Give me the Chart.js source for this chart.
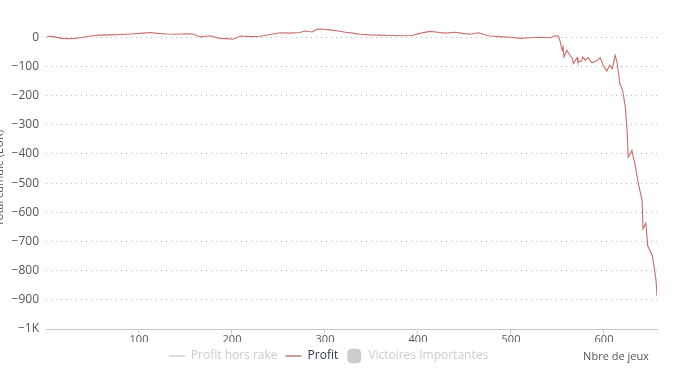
<!DOCTYPE html>
<html>
<head>
<meta charset="utf-8">
<script src="https://cdn.jsdelivr.net/npm/chart.js@4"></script>
<style>
  html, body { margin: 0; padding: 0; background: #fff; }
  #wrap { width: 674px; height: 372px; position: relative; }
</style>
</head>
<body>
<div id="wrap"><canvas id="profitChart"></canvas></div>
<script>
// Games played (x) and cumulative profit (y)
const games = [1, 8, 17, 24, 31, 40, 50, 58, 70, 80, 92, 105, 112, 120, 130, 140, 150, 158,
  166, 176, 187, 195, 201, 209, 220, 230, 241, 252, 262, 273, 278, 286, 292, 298, 305, 314,
  322, 330, 338, 348, 359, 370, 381, 394, 402, 413, 421, 429, 440, 448, 456, 465, 471, 477,
  488, 499, 510, 520, 531, 542, 547, 551, 553, 555, 556, 557, 560, 562, 566, 567, 571, 572,
  576, 577, 580, 583, 587, 592, 596, 599, 603, 606, 609, 612, 614, 617, 620, 623, 625, 626,
  628, 630, 634, 637, 641, 642, 645, 647, 652, 654, 656, 657];
const profit = [3, 2, -4, -5, -4, 0, 5, 7, 8, 9, 11, 14, 16, 13, 11, 10, 12, 11,
  1, 5, -4, -5, -7, 4, 2, 3, 9, 15, 14, 16, 21, 18, 28, 27, 25, 21,
  17, 14, 10, 8, 7, 6, 5, 6, 13, 20, 17, 14, 17, 13, 10, 15, 9, 4,
  2, 0, -4, -2, 0, -2, 5, 4, -16, -45, -33, -68, -45, -56, -73, -90, -70, -85,
  -82, -68, -79, -70, -88, -81, -70, -96, -116, -96, -108, -62, -85, -159, -182, -240, -331, -411,
  -400, -388, -446, -503, -560, -657, -637, -715, -749, -789, -835, -887];

const legendNames = ['Profit hors rake', 'Profit', 'Victoires Importantes'];
// 100 is the unlabelled top of the axis
const yTicks = [-1000, -900, -800, -700, -600, -500, -400, -300, -200, -100, 0, 100];
const xTicks = [100, 200, 300, 400, 500, 600];

const FONT = "'Open Sans', 'DejaVu Sans', sans-serif";

// draw the axis titles where the original puts them
const axisTitles = {
    id: 'axisTitles',
    afterDraw(chart) {
        const ctx = chart.ctx;
        ctx.save();
        ctx.font = '11px ' + FONT;
        ctx.fillStyle = '#555';
        ctx.textAlign = 'center';
        ctx.textBaseline = 'middle';
        ctx.fillText('Nbre de jeux', 616, 357);
        ctx.translate(0, 178);
        ctx.rotate(-Math.PI / 2);
        ctx.fillText('Total cumulé (EUR)', 0, 0);
        ctx.restore();
    }
};

const hideEdge = v => v === -1000 || v === 100;

const ctx = document.getElementById('profitChart').getContext('2d');
new Chart(ctx, {
    type: 'line',
    data: {
        datasets: [{
            label: legendNames[1],
            data: games.map((g, i) => ({ x: g, y: profit[i] })),
            borderColor: '#c96d6d',
            borderWidth: 1.1,
            pointRadius: 0,
            tension: 0,
            fill: false
        }]
    },
    options: {
        responsive: true,
        maintainAspectRatio: false,
        animation: false,
        layout: { padding: { left: 0, right: 17, top: 8, bottom: 0 } },
        plugins: {
            tooltip: { enabled: false },
            legend: {
                position: 'bottom',
                onClick: null,
                labels: {
                    usePointStyle: true,
                    pointStyleWidth: 16,
                    boxHeight: 12,
                    padding: 8,
                    font: { family: FONT, size: 12 },
                    generateLabels: () => [
                        { text: legendNames[0], fontColor: '#cccccc', strokeStyle: '#dddddd', fillStyle: '#dddddd', lineWidth: 2, pointStyle: 'line', hidden: false },
                        { text: legendNames[1], fontColor: '#2c3650', strokeStyle: '#d49a9a', fillStyle: '#d49a9a', lineWidth: 2, pointStyle: 'line', hidden: false },
                        { text: legendNames[2], fontColor: '#cccccc', strokeStyle: '#cccccc', fillStyle: '#cccccc', lineWidth: 0, pointStyle: 'rectRounded', hidden: false }
                    ]
                }
            }
        },
        scales: {
            x: {
                type: 'linear',
                min: 0,
                max: 657,
                afterBuildTicks: axis => { axis.ticks = xTicks.map(v => ({ value: v })); },
                afterFit: axis => { axis.height = 13; },
                grid: { drawOnChartArea: false, drawTicks: true, tickLength: 5, color: '#ccc' },
                border: { display: true, color: '#c8c8c8', width: 1 },
                ticks: { color: '#555', padding: -1, font: { family: FONT, size: 11 }, maxRotation: 0 }
            },
            y: {
                min: -1000,
                max: 100,
                afterBuildTicks: axis => { axis.ticks = yTicks.map(v => ({ value: v })); },
                afterFit: axis => { axis.width = 46; axis.paddingTop = 0; axis.paddingBottom = 0; },
                grid: {
                    drawTicks: false,
                    color: ctx => ctx.tick && hideEdge(ctx.tick.value) ? 'rgba(0,0,0,0)' : '#b8b8b8'
                },
                border: { display: false, dash: [1, 4] },
                ticks: {
                    color: '#555',
                    padding: 7,
                    font: { family: FONT, size: 12 },
                    callback: v => v === 100 ? '' : v === -1000 ? '\u22121K' : (v < 0 ? '\u2212' + Math.abs(v) : String(v))
                }
            }
        }
    },
    plugins: [axisTitles]
});
</script>
</body>
</html>
